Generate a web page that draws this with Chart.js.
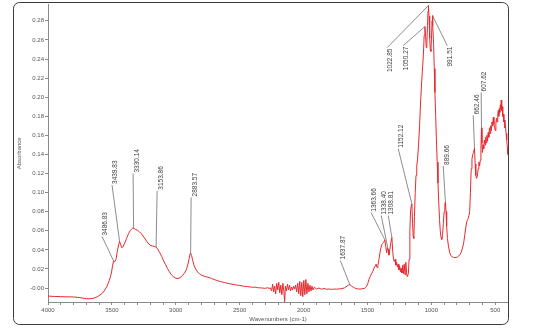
<!DOCTYPE html>
<html>
<head>
<meta charset="utf-8">
<title>FTIR spectrum</title>
<script src="https://cdn.jsdelivr.net/npm/chart.js@4.4.0/dist/chart.umd.min.js"></script>
<style>
    html, body { margin: 0; padding: 0; background: #fff; }
    #wrap { width: 536px; height: 335px; }
</style>
</head>
<body>
<div id="wrap"><canvas id="spectrum" width="536" height="335"></canvas></div>
<script>
// ------------------------------
// Spectrum data (wavenumber, absorbance)
// ------------------------------

const wavenumbers = [
    4000, 3950, 3900, 3850, 3800, 3750, 3700, 3670, 3640, 3610,
    3580, 3560, 3540, 3520, 3505, 3495, 3486.83, 3478, 3468, 3458,
    3448, 3439.83, 3432, 3424, 3415, 3400, 3385, 3370, 3355, 3340,
    3330.14, 3315, 3300, 3285, 3270, 3255, 3240, 3225, 3210, 3195,
    3180, 3165, 3153.86, 3140, 3125, 3110, 3095, 3080, 3065, 3050,
    3035, 3020, 3005, 2990, 2975, 2960, 2945, 2930, 2915, 2905,
    2895, 2888, 2883.57, 2876, 2868, 2858, 2845, 2830, 2815, 2800,
    2780, 2760, 2740, 2720, 2700, 2680, 2660, 2640, 2620, 2600,
    2580, 2560, 2540, 2520, 2500, 2480, 2460, 2440, 2420, 2400,
    2380, 2360, 2340, 2320, 2300, 2280, 2270, 2260,
    2250, 2242, 2234, 2226, 2218, 2210, 2202, 2194, 2186, 2178,
    2170, 2162, 2154, 2148, 2142, 2134, 2126, 2118, 2110, 2102,
    2094, 2086, 2078, 2070, 2062, 2054, 2046, 2038, 2030, 2022,
    2014, 2006, 1998, 1990, 1982, 1974, 1966, 1958, 1950, 1942,
    1934, 1926, 1915, 1900, 1880, 1860, 1840, 1820, 1800, 1780,
    1760, 1740, 1720, 1700, 1680, 1660, 1648, 1637.87, 1625, 1610,
    1595, 1580, 1565, 1550, 1535, 1520, 1508, 1498, 1488, 1478,
    1468, 1458, 1448, 1440, 1432, 1425, 1418, 1410, 1402, 1395,
    1388, 1380, 1372, 1363.66, 1357, 1350, 1344, 1338.40, 1332, 1325,
    1318, 1308.81, 1302, 1296, 1290, 1284, 1278, 1272, 1266, 1260,
    1254, 1248, 1242, 1236, 1230, 1224, 1218, 1212, 1206, 1200,
    1194, 1188, 1180, 1174, 1168, 1162, 1156, 1152.12, 1147, 1142,
    1137, 1132, 1126, 1120, 1114, 1108, 1100, 1092, 1084, 1076,
    1068, 1062, 1056, 1050.27, 1045, 1040, 1035, 1030, 1026, 1022.85,
    1018, 1013, 1008, 1003, 998, 994, 991.51, 987, 982, 977,
    972, 966, 960, 954, 948, 942, 936, 930, 924, 918,
    912, 906, 900, 894, 889.66, 885, 880, 874, 866, 856,
    846, 836, 826, 816, 806, 796, 786, 776, 766, 756,
    746, 738, 730, 722, 714, 706, 700, 694, 688, 682,
    676, 670, 666, 662.46, 657, 652, 646, 640, 634, 628,
    622, 617, 612, 607.62, 604, 600, 595, 590, 585, 580,
    575, 570, 565, 560, 555, 550, 545, 540, 535, 530,
    525, 520, 515, 510, 505, 500, 495, 490, 485, 480,
    476, 472, 468, 464, 460, 456, 453, 449, 445, 441,
    437, 432, 428, 424, 420, 415, 410, 405, 401
];

const absorbance = [
    -0.0084, -0.0088, -0.0090, -0.0092, -0.0093, -0.0100, -0.0112, -0.0112, -0.0105, -0.0088,
    -0.0060, -0.0030, 0.0015, 0.0080, 0.0150, 0.0230, 0.0285, 0.0275, 0.0300, 0.0380,
    0.0450, 0.0490, 0.0460, 0.0425, 0.0430, 0.0470, 0.0520, 0.0570, 0.0605, 0.0625,
    0.0627, 0.0615, 0.0605, 0.0590, 0.0570, 0.0545, 0.0515, 0.0485, 0.0460, 0.0445,
    0.0440, 0.0435, 0.0430, 0.0405, 0.0370, 0.0330, 0.0285, 0.0245, 0.0205, 0.0170,
    0.0140, 0.0120, 0.0105, 0.0100, 0.0103, 0.0115, 0.0135, 0.0160, 0.0200, 0.0250,
    0.0310, 0.0360, 0.0365, 0.0340, 0.0290, 0.0240, 0.0200, 0.0170, 0.0150, 0.0135,
    0.0125, 0.0118, 0.0110, 0.0100, 0.0090, 0.0080, 0.0072, 0.0065, 0.0058, 0.0052,
    0.0046, 0.0040, 0.0036, 0.0030, 0.0028, 0.0022, 0.0018, 0.0015, 0.0012, 0.0008,
    0.0010, 0.0004, 0.0002, 0.0000, -0.0003, 0.0004, -0.0004, 0.0002,
    -0.0030, 0.0040, -0.0040, 0.0020, -0.0060, 0.0050, -0.0020, 0.0060, -0.0050, 0.0030,
    -0.0070, 0.0050, -0.0040, -0.0145, 0.0020, -0.0030, 0.0040, -0.0020, 0.0030, -0.0030,
    0.0010, -0.0020, 0.0020, -0.0010, 0.0030, -0.0040, 0.0050, -0.0060, 0.0070, -0.0080,
    0.0060, -0.0090, 0.0080, -0.0070, 0.0090, -0.0060, 0.0050, -0.0040, 0.0030, -0.0030,
    0.0020, -0.0020, 0.0010, -0.0010, 0.0000, -0.0012, -0.0005, -0.0012, -0.0010, -0.0014,
    -0.0010, -0.0012, -0.0008, -0.0006, 0.0002, 0.0020, 0.0032, 0.0035, 0.0022, 0.0008,
    -0.0002, -0.0008, -0.0010, -0.0010, -0.0006, -0.0002, 0.0015, 0.0045, 0.0090, 0.0120,
    0.0150, 0.0175, 0.0210, 0.0230, 0.0250, 0.0215, 0.0240, 0.0300, 0.0370, 0.0420,
    0.0455, 0.0470, 0.0480, 0.0505, 0.0440, 0.0370, 0.0420, 0.0405, 0.0345, 0.0400,
    0.0470, 0.0530, 0.0380, 0.0300, 0.0280, 0.0300, 0.0240, 0.0270, 0.0220, 0.0250,
    0.0190, 0.0230, 0.0170, 0.0210, 0.0160, 0.0240, 0.0150, 0.0250, 0.0140, 0.0270,
    0.0160, 0.0120, 0.0150, 0.0300, 0.0600, 0.0820, 0.0870, 0.0880, 0.0680, 0.0540,
    0.0520, 0.0750, 0.1000, 0.1180, 0.1280, 0.1350, 0.1500, 0.1700, 0.1950, 0.2150,
    0.2320, 0.2450, 0.2650, 0.2740, 0.2650, 0.2520, 0.2560, 0.2750, 0.2900, 0.2960,
    0.2850, 0.2620, 0.2500, 0.2480, 0.2650, 0.2800, 0.2855, 0.2750, 0.2550, 0.2300,
    0.2050, 0.1800, 0.1550, 0.1320, 0.1100, 0.0900, 0.0720, 0.0600, 0.0530, 0.0510,
    0.0560, 0.0680, 0.0800, 0.0880, 0.0900, 0.0800, 0.0650, 0.0520, 0.0440, 0.0370,
    0.0340, 0.0325, 0.0320, 0.0320, 0.0320, 0.0325, 0.0335, 0.0350, 0.0375, 0.0420,
    0.0480, 0.0560, 0.0640, 0.0700, 0.0720, 0.0760, 0.0800, 0.1000, 0.1250, 0.1350,
    0.1400, 0.1420, 0.1450, 0.1470, 0.1300, 0.1180, 0.1150, 0.1170, 0.1250, 0.1320,
    0.1280, 0.1340, 0.1450, 0.1680, 0.1520, 0.1420, 0.1500, 0.1460, 0.1550, 0.1500,
    0.1580, 0.1520, 0.1600, 0.1540, 0.1630, 0.1580, 0.1680, 0.1620, 0.1700, 0.1650,
    0.1740, 0.1700, 0.1790, 0.1720, 0.1680, 0.1650, 0.1720, 0.1780, 0.1740, 0.1830,
    0.1860, 0.1800, 0.1880, 0.1840, 0.1920, 0.1880, 0.1970, 0.1860, 0.1900, 0.1800,
    0.1820, 0.1740, 0.1760, 0.1680, 0.1700, 0.1620, 0.1550, 0.1470, 0.1400
];

// labelled peaks
const peakLabels = [
    "3486.83", "3439.83", "3330.14", "3153.86", "2883.57", "1637.87",
    "1363.66", "1338.40", "1308.81", "1152.12", "1050.27", "1022.85",
    "991.51", "889.66", "662.46", "607.62"
];
const peakWavenumbers = [
    3486.83, 3439.83, 3330.14, 3153.86, 2883.57, 1637.87,
    1363.66, 1338.40, 1308.81, 1152.12, 1050.27, 1022.85,
    991.51, 889.66, 662.46, 607.62
];

// axis ticks
const xTicks = [4000, 3500, 3000, 2500, 2000, 1500, 1000, 500];
const yTicks = [0, 0.02, 0.04, 0.06, 0.08, 0.10, 0.12, 0.14, 0.16, 0.18, 0.20, 0.22, 0.24, 0.26, 0.28];

// ------------------------------
// Leader line ends for the peak labels (axis units)
// hang: label sits below the leader end
// ------------------------------

const leaders = [
    { w: 3577, a: 0.054, dx: 3 },
    { w: 3499, a: 0.108, dx: 3.5 },
    { w: 3334, a: 0.120, dx: 4 },
    { w: 3146, a: 0.102, dx: 4 },
    { w: 2880, a: 0.095, dx: 4 },
    { w: 1713, a: 0.029, dx: 3 },
    { w: 1471, a: 0.079, dx: 3 },
    { w: 1392, a: 0.076, dx: 3 },
    { w: 1337, a: 0.076, dx: 3 },
    { w: 1259, a: 0.146, dx: 3 },
    { w: 1220, a: 0.254, dx: 2.5, hang: true },
    { w: 1345, a: 0.252, dx: 2.5, hang: true },
    { w: 875,  a: 0.254, dx: 2.5, hang: true },
    { w: 907,  a: 0.128, dx: 3.5 },
    { w: 672,  a: 0.181, dx: 3.5 },
    { w: 610,  a: 0.205, dx: 3.5 }
];

// absorbance at any wavenumber, straight between samples
function absorbanceAt(w) {
    for (let i = 0; i < wavenumbers.length - 1; i++) {
        const a = wavenumbers[i], b = wavenumbers[i + 1];
        if (w <= a && w >= b) {
            const t = (a - w) / (a - b);
            return absorbance[i] + t * (absorbance[i + 1] - absorbance[i]);
        }
    }
    return absorbance[absorbance.length - 1];
}

const labelFont = '6.5px "Liberation Sans", Arial, sans-serif';

// ------------------------------
// Plugins: rounded frame + peak labels
// ------------------------------

const framePlugin = {
    id: "frame",
    afterDraw(chart) {
        const ctx = chart.ctx;
        ctx.save();
        ctx.strokeStyle = "#3c3c3c";
        ctx.lineWidth = 1;
        ctx.beginPath();
        ctx.roundRect(13.5, 2.5, 495, 322, 6);
        ctx.stroke();
        ctx.restore();
    }
};

const peakLabelPlugin = {
    id: "peakLabels",
    afterDatasetsDraw(chart) {
        const ctx = chart.ctx;
        const x = chart.scales.x;
        const y = chart.scales.y;

        ctx.save();
        ctx.font = labelFont;
        ctx.textBaseline = "middle";

        peakWavenumbers.forEach(function (w, i) {
            const px = x.getPixelForValue(w);
            const py = y.getPixelForValue(absorbanceAt(w));
            const lead = leaders[i];
            const lx = x.getPixelForValue(lead.w);
            const ly = y.getPixelForValue(lead.a);

            ctx.strokeStyle = "#6e6e6e";
            ctx.lineWidth = 0.8;
            ctx.beginPath();
            ctx.moveTo(px, py);
            ctx.lineTo(lx, ly);
            ctx.stroke();

            ctx.save();
            ctx.translate(lx + lead.dx, ly);
            ctx.rotate(-Math.PI / 2);
            ctx.fillStyle = "#404040";
            if (lead.hang) {
                ctx.textAlign = "right";
                ctx.fillText(peakLabels[i], -1, 0);
            } else {
                ctx.textAlign = "left";
                ctx.fillText(peakLabels[i], 1, 0);
            }
            ctx.restore();
        });

        ctx.restore();
    }
};

// ------------------------------
// Spectrum chart
// ------------------------------

const points = wavenumbers.map(function (w, i) {
    return { x: w, y: absorbance[i] };
});

new Chart(document.getElementById("spectrum"), {

    type: "line",

    data: {
        datasets: [{
            data: points,
            borderColor: "#e62a2f",
            borderWidth: 1,
            pointRadius: 0,
            tension: 0,
            fill: false
        }]
    },

    options: {
        responsive: false,
        animation: false,
        layout: {
            padding: { top: 4, right: 28, left: 0, bottom: 0 }
        },
        plugins: {
            legend: { display: false },
            tooltip: { enabled: false }
        },
        scales: {
            x: {
                type: "linear",
                reverse: true,
                min: 400,
                max: 4000,
                afterBuildTicks: function (scale) {
                    const ticks = [];
                    for (let v = 4000; v >= 500; v -= 100) ticks.push({ value: v });
                    scale.ticks = ticks;
                },
                ticks: {
                    autoSkip: false,
                    maxRotation: 0,
                    padding: 2,
                    color: "#555",
                    font: { size: 6, family: "Liberation Sans, Arial, sans-serif" },
                    callback: function (v) {
                        return xTicks.indexOf(v) >= 0 ? String(v) : "";
                    }
                },
                grid: {
                    drawOnChartArea: false,
                    tickLength: 3,
                    color: "#8a8a8a"
                },
                border: { color: "#8a8a8a" },
                title: {
                    display: true,
                    text: "Wavenumbers (cm-1)",
                    color: "#555",
                    font: { size: 6, family: "Liberation Sans, Arial, sans-serif" },
                    padding: 12
                },
                afterFit: function (scale) {
                    scale.height = 33;
                }
            },
            y: {
                min: -0.0146,
                max: 0.297,
                afterBuildTicks: function (scale) {
                    scale.ticks = yTicks.map(function (v) { return { value: v }; });
                },
                ticks: {
                    padding: 1,
                    color: "#555",
                    font: { size: 6, family: "Liberation Sans, Arial, sans-serif" },
                    callback: function (v) {
                        return v === 0 ? "-0.00" : v.toFixed(2);
                    }
                },
                grid: {
                    drawOnChartArea: false,
                    tickLength: 3,
                    color: "#8a8a8a"
                },
                border: { color: "#8a8a8a", dash: [1, 1] },
                title: {
                    display: true,
                    text: "Absorbance",
                    color: "#555",
                    font: { size: 6, family: "Liberation Sans, Arial, sans-serif" },
                    padding: 16
                },
                afterFit: function (scale) {
                    scale.width = 48;
                }
            }
        }
    },

    plugins: [framePlugin, peakLabelPlugin]

});
</script>
</body>
</html>
